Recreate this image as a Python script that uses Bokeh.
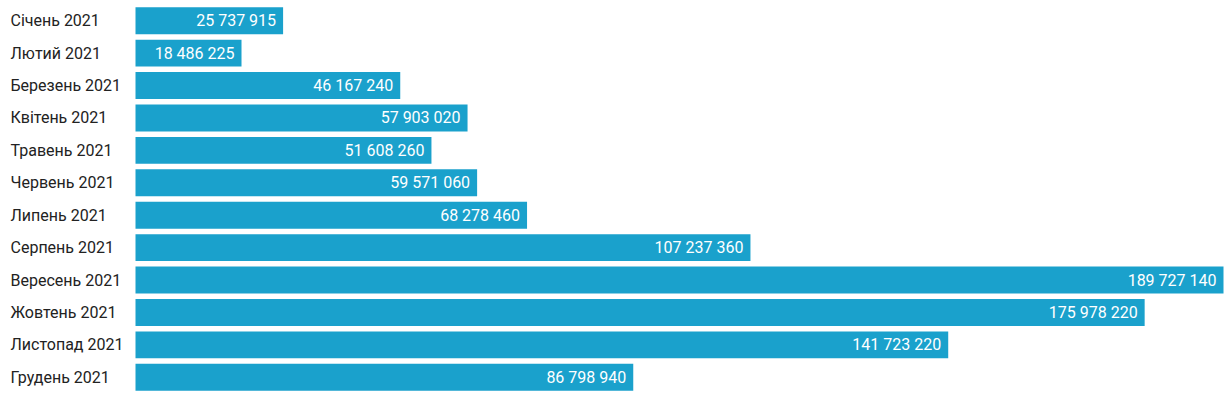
from bokeh.plotting import figure
from bokeh.models import ColumnDataSource, Range1d, FactorRange
from bokeh.core.properties import value
from bokeh.embed import file_html
from bokeh.resources import INLINE

months = ["Січень 2021", "Лютий 2021", "Березень 2021", "Квітень 2021", "Травень 2021",
          "Червень 2021", "Липень 2021", "Серпень 2021", "Вересень 2021", "Жовтень 2021",
          "Листопад 2021", "Грудень 2021"]
values = [25737915, 18486225, 46167240, 57903020, 51608260, 59571060, 68278460,
          107237360, 189727140, 175978220, 141723220, 86798940]
value_labels = [f"{v:,}".replace(",", " ") for v in values]

W, H = 1225, 407
left_px = 135
bar_span_px = 1088
vmax = max(values)
unit = vmax / bar_span_px

src = ColumnDataSource(dict(m=months, v=values, lab=value_labels, zero=[0] * len(values)))

p = figure(width=W, height=H, output_backend="svg", toolbar_location=None,
           y_range=FactorRange(factors=list(reversed(months)), range_padding=0),
           x_range=Range1d(-left_px * unit, (W - left_px) * unit),
           min_border_left=0, min_border_right=0, min_border_top=4, min_border_bottom=14)
p.outline_line_color = None
p.xgrid.visible = False
p.ygrid.visible = False
p.xaxis.visible = False
p.yaxis.visible = False
p.background_fill_color = "white"
p.border_fill_color = "white"

p.hbar(y="m", left=0, right="v", height=0.83, source=src, color="#1aa1cc", line_color=None)

p.text(x="v", y="m", text="lab", source=src, x_offset=-7, text_align="right",
       text_baseline="middle", text_color="white", text_font=value("Roboto"),
       text_font_size="16px", text_font_style="normal")

p.text(x="zero", y="m", text="m", source=src, x_offset=-125, text_align="left",
       text_baseline="middle", text_color="#222222", text_font=value("Roboto"),
       text_font_size="16px")

open("out.html", "w").write(file_html(p, INLINE))
